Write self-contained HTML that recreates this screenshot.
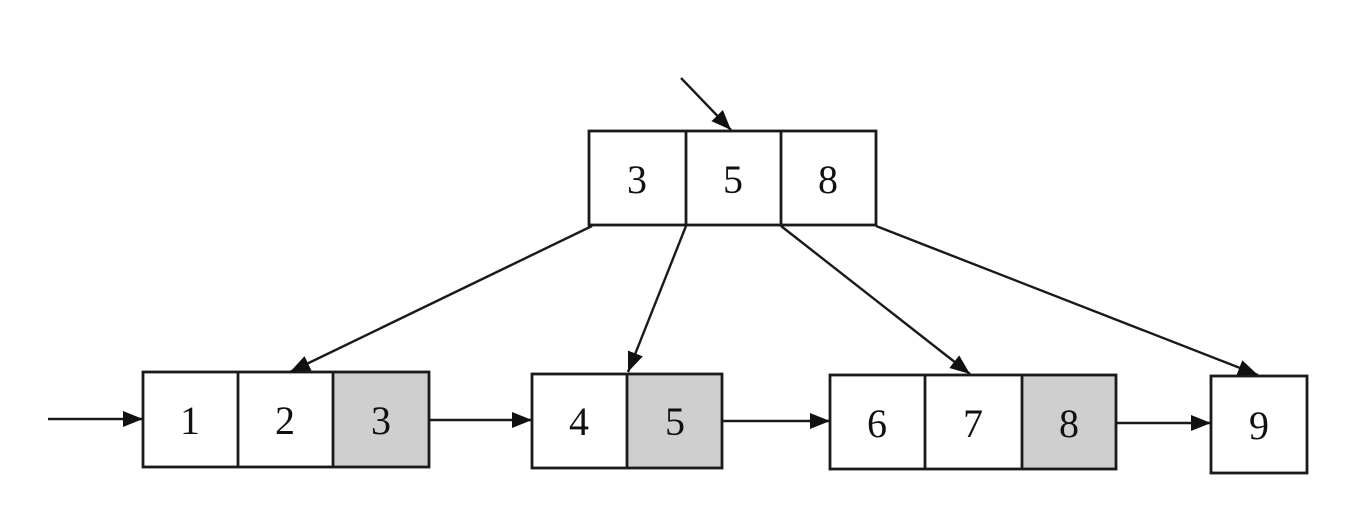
<!DOCTYPE html>
<html><head><meta charset="utf-8"><style>
html,body{margin:0;padding:0;background:#fff;}
</style></head><body>
<svg width="1354" height="510" xmlns="http://www.w3.org/2000/svg">
<defs>
<marker id="b" viewBox="0 0 10 10" refX="10" refY="5" markerWidth="20" markerHeight="20" markerUnits="userSpaceOnUse" orient="auto">
<path d="M0,1 L10,5 L0,9 z" fill="#111"/></marker>
</defs>
<g fill="#cfcfcf">
<rect x="333" y="372" width="96" height="95"/>
<rect x="627" y="374" width="95" height="94"/>
<rect x="1022" y="375" width="94" height="94"/>
</g>
<g fill="none" stroke="#1a1a1a" stroke-width="2.8">
<rect x="589" y="131" width="287" height="94"/>
<line x1="686" y1="131" x2="686" y2="225"/><line x1="781" y1="131" x2="781" y2="225"/>
<rect x="143" y="372" width="286" height="95"/>
<line x1="238" y1="372" x2="238" y2="467"/><line x1="333" y1="372" x2="333" y2="467"/>
<rect x="532" y="374" width="190" height="94"/>
<line x1="627" y1="374" x2="627" y2="468"/>
<rect x="830" y="375" width="286" height="94"/>
<line x1="925" y1="375" x2="925" y2="469"/><line x1="1022" y1="375" x2="1022" y2="469"/>
<rect x="1211" y="376" width="96" height="97"/>
</g>
<g stroke="#1a1a1a" stroke-width="2.4" marker-end="url(#b)">
<line x1="681" y1="78" x2="731" y2="130"/>
<line x1="592" y1="226" x2="290" y2="372"/>
<line x1="686" y1="226" x2="628" y2="372"/>
<line x1="781" y1="226" x2="970" y2="374"/>
<line x1="876" y1="226" x2="1258" y2="375"/>
<line x1="48" y1="419" x2="143" y2="419"/>
<line x1="429" y1="420" x2="532" y2="420"/>
<line x1="722" y1="421" x2="830" y2="421"/>
<line x1="1116" y1="423" x2="1211" y2="423"/>
</g>
<g font-family="Liberation Serif, serif" font-size="40" fill="#111" text-anchor="middle">
<text x="637" y="193">3</text><text x="733" y="193">5</text><text x="828" y="193">8</text>
<text x="190" y="434">1</text><text x="285" y="434">2</text><text x="381" y="434">3</text>
<text x="579" y="435">4</text><text x="675" y="435">5</text>
<text x="877" y="437">6</text><text x="973" y="437">7</text><text x="1069" y="437">8</text>
<text x="1259" y="439">9</text>
</g>
</svg>
</body></html>
